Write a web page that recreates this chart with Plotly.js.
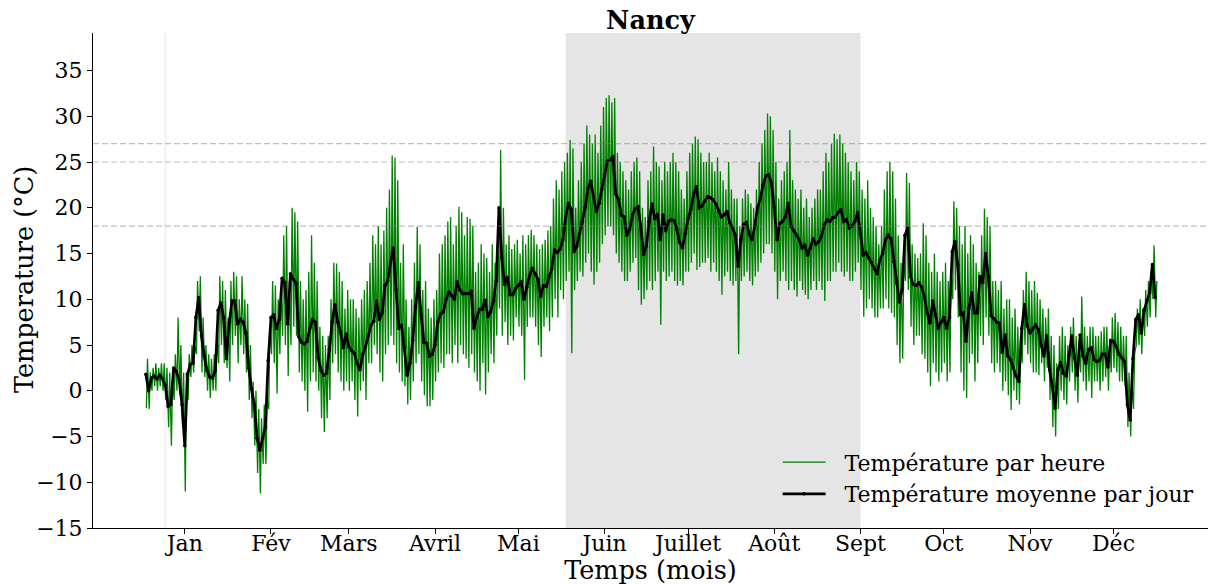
<!DOCTYPE html>
<html>
<head>
<meta charset="utf-8">
<script src="https://cdn.plot.ly/plotly-3.0.1.min.js"></script>
<style>html,body{margin:0;padding:0;background:#fff;}#chart{width:1209px;height:585px;}</style>
</head>
<body>
<div id="chart"></div>
<script>
// Daily mean temperature (°C), day index 0 = 1 Jan
const dailyMean = [
1.8,0.0,1.4,1.6,1.3,1.7,1.3,0.6,-1.7,-1.5,
2.5,2.1,1.2,-1.5,-6.0,1.8,2.9,3.0,8.0,10.2,
6.0,3.8,2.2,1.5,1.4,2.2,8.8,9.6,8.0,3.5,
7.5,9.8,9.8,7.3,7.8,7.5,6.3,2.5,0.2,-1.5,
-5.2,-6.5,-5.2,-4.0,3.3,8.0,8.3,6.8,7.8,12.3,
11.8,7.3,12.8,12.2,11.8,5.9,5.3,5.1,5.4,6.8,
7.8,7.5,3.6,2.2,1.7,1.9,4.5,7.5,9.4,7.5,
6.5,4.7,6.2,4.8,4.4,4.1,3.0,2.3,4.0,4.8,
6.0,7.2,7.6,9.8,7.8,8.5,11.5,12.0,14.0,15.6,
11.0,6.8,7.2,4.7,1.7,3.0,5.5,9.2,11.8,8.3,
5.3,5.2,3.8,4.0,5.0,7.5,8.4,8.6,10.0,10.8,
10.4,10.0,11.9,11.0,10.6,10.6,10.6,10.9,6.8,8.0,
8.9,8.9,9.9,8.1,8.6,9.8,12.0,20.0,14.5,11.6,
12.4,10.5,10.5,11.2,11.5,11.9,10.0,11.3,12.6,13.4,
12.8,12.2,10.3,11.5,11.4,12.5,13.3,15.4,15.1,15.5,
16.5,19.0,20.5,19.8,15.2,15.8,17.2,18.5,20.0,22.1,
22.9,21.2,19.6,20.5,22.0,23.6,25.1,25.2,25.6,21.5,
20.9,19.2,19.0,17.0,17.6,19.2,19.9,20.1,18.0,14.9,
15.8,18.5,20.4,18.8,19.3,16.5,19.2,17.5,18.5,18.7,
18.6,17.6,16.2,15.6,17.2,18.8,19.8,21.5,22.3,20.0,
20.2,20.7,21.2,21.1,20.9,20.4,19.7,19.0,19.2,19.6,
18.4,17.8,17.0,13.6,16.5,18.2,18.4,17.1,16.5,18.0,
20.0,21.0,22.5,23.5,23.6,22.7,20.0,16.5,18.3,18.5,
19.0,20.5,18.0,17.5,17.0,16.5,15.6,15.9,14.8,15.6,
16.6,16.0,16.3,16.9,18.1,18.7,18.5,18.9,19.0,19.5,
19.8,18.5,18.7,17.8,18.0,18.5,19.5,17.2,14.8,15.1,
14.5,14.0,13.3,12.8,14.3,15.0,16.5,17.0,16.6,14.1,
11.8,9.7,11.0,17.0,17.8,12.5,11.6,11.5,11.8,11.3,
10.3,8.5,7.4,9.8,8.3,6.8,7.5,8.0,6.8,8.0,
15.2,16.3,13.8,8.3,8.5,5.4,9.0,10.7,8.5,8.5,
12.5,11.8,15.0,12.5,8.2,7.9,7.5,7.4,4.2,6.1,
3.8,3.4,2.5,1.6,1.0,6.8,9.4,7.1,6.3,6.8,
7.2,6.7,5.0,3.8,6.0,2.3,0.5,-1.9,2.3,3.1,
1.9,1.6,3.9,6.0,3.6,1.7,6.1,3.8,3.0,4.5,
4.7,3.4,3.2,3.3,4.0,4.0,2.6,5.5,5.4,4.8,
4.0,3.6,3.2,-1.5,-3.2,3.5,7.8,8.3,6.3,8.8,
9.9,10.7,13.8,10.2
];

// Hourly series, summarised as the daily low and daily high
const hourlyLow = [
-1.9,-2.0,0.0,0.5,0.0,0.5,0.0,-1.0,-4.0,-6.0,
-1.0,0.0,-0.5,-4.0,-11.0,-1.0,1.5,2.0,4.0,6.5,
2.0,1.5,0.0,-0.8,0.0,0.0,3.0,5.0,3.0,2.5,
1.0,5.0,6.0,3.0,5.0,4.0,2.0,-1.0,-3.0,-6.0,
-9.0,-11.2,-8.0,-8.0,-2.0,4.0,3.0,-0.3,4.0,6.0,
5.0,1.6,5.0,7.0,6.0,2.0,1.0,0.0,-2.3,1.0,
2.0,1.0,0.0,-3.0,-4.5,-3.0,-1.0,3.0,4.0,2.0,
1.0,0.0,1.0,0.0,1.0,-1.0,-2.8,0.0,1.0,-1.0,
3.0,3.0,5.0,4.0,2.0,1.0,4.0,5.0,6.0,5.0,
3.0,2.0,1.0,0.5,-1.5,-1.0,1.0,3.0,4.0,1.0,
-0.5,-1.7,-1.7,-1.0,1.0,2.0,3.0,2.5,4.0,4.0,
3.0,5.0,3.0,5.0,4.0,3.5,2.5,4.0,2.0,1.0,
0.0,3.0,-0.4,2.0,4.0,3.0,6.0,9.0,6.0,7.5,
5.0,6.0,5.5,8.0,7.0,6.0,1.2,7.0,8.0,8.0,
7.0,5.0,3.7,7.0,8.0,6.5,8.0,10.0,8.0,11.0,
10.0,12.0,13.0,4.1,11.0,12.0,13.0,12.5,14.0,15.0,
13.0,11.6,13.0,14.0,16.0,17.0,18.0,18.0,17.0,15.0,
14.0,13.0,12.0,12.0,13.0,14.0,14.5,11.0,9.4,10.0,
11.0,12.0,11.0,12.0,13.0,7.2,13.0,12.0,12.5,13.0,
12.0,11.5,12.0,11.5,13.0,13.0,14.0,15.0,13.2,13.5,
14.0,14.0,14.5,13.0,14.0,13.0,12.0,10.5,12.5,13.0,
12.0,11.5,12.0,4.0,12.0,12.5,13.0,12.0,11.5,12.5,
13.0,14.0,15.0,16.0,16.0,15.0,13.0,10.0,12.0,13.0,
12.0,11.0,12.0,11.0,10.3,12.0,11.0,10.5,10.0,11.0,
12.0,11.0,12.0,11.0,9.8,12.0,12.0,13.0,13.0,14.0,
13.0,12.5,13.0,12.0,12.0,13.0,14.0,11.0,8.1,9.0,
10.0,9.0,8.0,8.0,9.0,9.0,10.0,9.0,8.5,8.0,
5.0,3.0,3.5,12.0,11.0,7.0,5.0,6.0,6.0,4.0,
3.5,2.0,0.5,3.0,2.0,1.0,2.0,3.0,1.0,2.0,
10.0,11.0,8.0,2.0,0.0,-0.8,3.0,4.0,1.0,3.0,
6.0,5.0,8.0,6.0,3.0,2.0,3.0,2.0,0.0,1.0,
-0.5,-2.1,0.0,-1.0,-1.5,3.0,5.0,4.0,3.0,2.0,
2.0,1.7,3.0,1.0,2.5,-1.0,-4.0,-5.0,-2.0,0.0,
-1.0,-1.5,1.0,2.0,0.0,-1.3,2.0,1.0,0.0,1.0,
-0.8,1.0,1.0,0.0,1.0,1.5,0.0,2.0,2.5,2.0,
1.0,1.0,0.5,-4.0,-5.0,-2.0,5.0,5.0,4.0,6.0,
7.0,8.0,10.0,8.0
];
const hourlyHigh = [
3.5,2.0,2.5,3.0,2.5,3.0,3.0,2.5,2.0,1.0,
4.0,8.0,5.0,2.0,2.0,4.0,5.0,5.0,12.0,12.5,
8.0,5.0,4.0,3.5,4.0,6.0,12.5,12.0,11.0,8.0,
12.0,13.0,12.5,10.0,12.5,10.0,9.5,5.0,1.0,0.0,
-2.0,-3.0,-1.5,-1.0,7.0,12.0,11.5,10.0,11.0,17.0,
18.0,12.0,20.0,19.5,18.5,12.0,10.0,11.0,13.0,17.0,
14.0,12.0,7.0,6.0,5.0,6.0,10.0,14.0,13.9,13.0,
12.0,9.0,11.0,10.0,10.0,9.0,8.0,10.0,11.0,12.0,
14.0,17.0,16.0,18.0,16.0,17.5,20.0,22.0,25.7,25.5,
23.0,14.0,16.0,10.0,7.0,10.0,14.0,17.9,16.0,11.0,
12.0,9.0,8.0,10.0,11.0,15.0,16.0,17.0,18.5,19.0,
16.0,18.0,20.1,19.5,17.0,19.0,18.8,18.0,13.0,14.0,
16.0,15.0,14.5,13.0,16.0,14.0,17.0,26.3,20.0,16.0,
17.0,15.5,16.0,16.5,15.0,17.0,16.0,17.0,17.6,17.0,
16.0,15.5,16.0,16.5,17.5,18.0,21.0,23.0,22.0,24.0,
25.0,26.0,27.4,26.5,20.0,23.0,25.0,27.0,29.0,28.0,
27.0,28.0,26.0,29.0,31.0,32.0,32.3,31.5,32.0,26.0,
25.0,24.0,23.0,22.0,24.0,25.0,25.5,24.0,20.0,19.0,
23.0,24.0,26.7,25.0,24.5,23.0,25.0,24.0,25.0,26.0,
25.0,24.0,22.0,21.0,24.0,26.0,27.0,27.8,27.5,26.0,
25.0,25.0,26.0,25.0,24.0,25.5,24.0,23.0,22.0,25.0,
22.0,21.0,21.0,18.0,21.0,22.0,21.5,20.5,20.0,22.0,
25.0,27.0,28.5,30.3,30.0,28.5,25.0,21.0,23.0,24.0,
25.0,28.5,23.0,22.0,21.0,22.0,20.0,21.0,19.0,20.0,
21.0,22.0,22.0,24.0,26.0,25.0,27.0,28.1,27.5,28.0,
27.0,26.0,25.0,24.0,23.0,25.0,24.0,22.0,21.0,23.0,
20.0,19.0,18.0,16.0,18.0,22.0,24.0,25.0,24.0,21.0,
17.0,14.0,14.0,23.8,22.7,16.0,15.0,14.5,15.0,18.3,
17.0,14.0,13.0,15.0,13.0,12.0,13.0,14.0,12.0,13.0,
20.7,20.0,18.0,16.0,18.0,15.0,17.0,16.0,14.0,13.0,
17.0,19.9,19.0,18.0,12.0,12.0,11.0,12.0,9.0,10.0,
10.0,8.0,9.0,7.0,6.0,11.0,13.0,12.0,11.0,12.0,
10.7,10.0,9.0,8.0,9.0,6.0,5.0,3.0,6.0,7.0,
6.0,5.0,7.0,8.0,6.0,5.0,10.3,7.0,6.0,7.0,
7.0,6.0,6.0,6.5,7.0,7.0,5.0,8.0,8.5,7.5,
7.0,6.0,6.0,2.0,1.0,4.0,9.0,10.0,9.0,11.0,
12.0,13.0,15.9,12.0
];

const monthLabels = ["Jan","Fév","Mars","Avril","Mai","Juin","Juillet","Août","Sept","Oct","Nov","Déc"];
const monthMidDays = [14,45,73,104,134,165,195,226,257,287,318,348];
const comfortLines = [18,25,27];
const summerStart = 151, summerEnd = 257;
const markerDay = 7;

const days = dailyMean.map((_, i) => i);
const hx = [], hy = [];
for (let i = 0; i < hourlyLow.length; i++) {
  hx.push(i + 0.2); hy.push(hourlyLow[i]);
  hx.push(i + 0.6); hy.push(hourlyHigh[i]);
}

const FONT = "DejaVu Serif, serif";
const NB = "\u00a0\u00a0";

const traces = [
  {x: hx, y: hy, type: "scatter", mode: "lines", name: NB + "Température par heure",
   line: {color: "#008000", width: 1.3}, hoverinfo: "skip"},
  {x: days, y: dailyMean, type: "scatter", mode: "lines+markers", name: NB + "Température moyenne par jour",
   line: {color: "#000000", width: 2.7}, marker: {color: "#000000", size: 3.5}}
];

const shapes = [
  {type: "rect", xref: "x", yref: "paper", x0: summerStart, x1: summerEnd, y0: 0, y1: 1,
   fillcolor: "#e5e5e5", line: {width: 0}, layer: "below"},
  {type: "line", xref: "x", yref: "paper", x0: markerDay, x1: markerDay, y0: 0, y1: 1,
   line: {color: "rgba(0,0,0,0.045)", width: 3}, layer: "below"}
];
comfortLines.forEach(v => shapes.push({
  type: "line", xref: "paper", yref: "y", x0: 0, x1: 1, y0: v, y1: v,
  line: {color: "rgba(128,128,128,0.5)", width: 1.2, dash: "6px,3px"}, layer: "above"
}));

const layout = {
  width: 1209, height: 585,
  margin: {l: 93, r: 1, t: 33, b: 57},
  paper_bgcolor: "#fff", plot_bgcolor: "#fff",
  font: {family: FONT, color: "#000", size: 22},
  title: {text: "<b>Nancy</b>", font: {family: FONT, size: 25.5, color: "#000"},
          x: 0.538, xanchor: "center", y: 0.965, yanchor: "middle", yref: "container"},
  showlegend: true,
  legend: {x: 0.614, xanchor: "left", y: 0.175, yanchor: "top", bgcolor: "rgba(0,0,0,0)",
           font: {family: FONT, size: 22, color: "#000"}, tracegroupgap: 0, itemwidth: 43},
  xaxis: {range: [-19, 382], tickmode: "array", tickvals: monthMidDays, ticktext: monthLabels,
          showgrid: false, zeroline: false, showline: true, linecolor: "#000", linewidth: 1,
          ticks: "outside", ticklen: 5, tickcolor: "#000", tickfont: {family: FONT, size: 22},
          ticklabelstandoff: -9,
          title: {text: "Temps (mois)", font: {family: FONT, size: 25.5}, standoff: 5}},
  yaxis: {range: [-15, 39.1], dtick: 5, tick0: 0,
          showgrid: false, zeroline: false, showline: true, linecolor: "#000", linewidth: 1,
          ticks: "outside", ticklen: 5, tickcolor: "#000", tickfont: {family: FONT, size: 22}},
  annotations: [
    {text: "Temperature (°C)", xref: "paper", yref: "paper", x: -69 / 1115, y: 0.501,
     xanchor: "center", yanchor: "middle", textangle: -90, showarrow: false,
     font: {family: FONT, size: 25.5, color: "#000"}}
  ],
  shapes: shapes
};

Plotly.newPlot("chart", traces, layout, {staticPlot: true, displayModeBar: false});
</script>
</body>
</html>
